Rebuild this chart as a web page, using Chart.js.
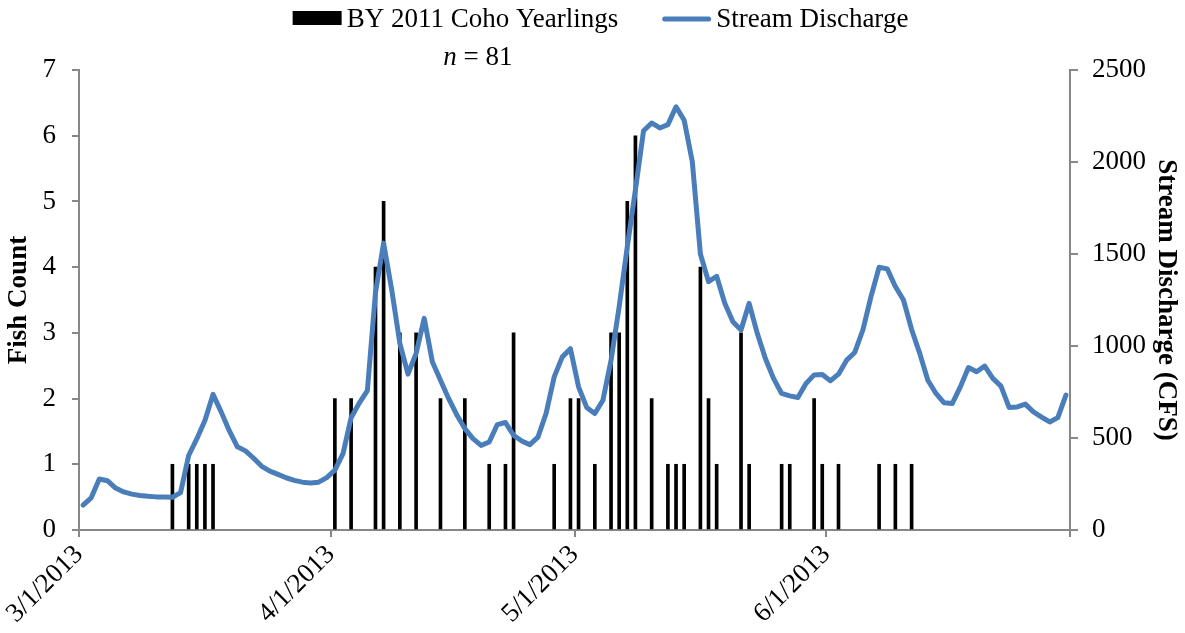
<!DOCTYPE html>
<html>
<head>
<meta charset="utf-8">
<title>BY 2011 Coho Yearlings and Stream Discharge</title>
<script src="https://cdn.jsdelivr.net/npm/chart.js@4.4.1/dist/chart.umd.min.js"></script>
<style>
  html, body { margin: 0; padding: 0; background: #ffffff; }
  #wrap { width: 1185px; height: 633px; }
</style>
</head>
<body>
<div id="wrap"><canvas id="chart" width="1185" height="633"></canvas></div>
<script>
// ---- data -------------------------------------------------------------
const seasonStart = '3/1/2013';
const seasonEnd = '7/1/2013';

// x-axis tick dates and their printed labels (the closing tick is unlabeled)
const axisTickDates = ['3/1/2013', '4/1/2013', '5/1/2013', '6/1/2013', '7/1/2013'];
const axisTickLabels = ['3/1/2013', '4/1/2013', '5/1/2013', '6/1/2013', ''];

// daily trap catch of BY 2011 coho yearlings (days with fish only)
const fishDates = [
  '3/12/2013', '3/14/2013', '3/15/2013', '3/16/2013', '3/17/2013',
  '4/1/2013', '4/3/2013', '4/6/2013', '4/7/2013', '4/9/2013', '4/11/2013', '4/14/2013',
  '4/17/2013', '4/20/2013', '4/22/2013', '4/23/2013', '4/28/2013', '4/30/2013',
  '5/1/2013', '5/3/2013', '5/5/2013', '5/6/2013', '5/7/2013', '5/8/2013', '5/10/2013',
  '5/12/2013', '5/13/2013', '5/14/2013', '5/16/2013', '5/17/2013', '5/18/2013',
  '5/21/2013', '5/22/2013', '5/26/2013', '5/27/2013', '5/30/2013', '5/31/2013',
  '6/2/2013', '6/7/2013', '6/9/2013', '6/11/2013'
];
const fishCounts = [
  1, 1, 1, 1, 1,
  2, 2, 4, 5, 3, 3, 2,
  2, 1, 1, 3, 1, 2,
  2, 1, 3, 3, 5, 6, 2,
  1, 1, 1, 4, 2, 1,
  3, 1, 1, 1, 2, 1,
  1, 1, 1, 1
];

// mean daily stream discharge (CFS), one value per day from 3/1/2013 to 6/30/2013
const dischargeCfs = [
  135, 175, 277, 268, 228, 207, 195, 188, 183, 180, 179, 178,          // Mar 1-12
  203, 405, 495, 595, 737, 642, 540, 452, 430, 390, 346, 320,          // Mar 13-24
  302, 284, 270, 260, 256, 260, 285,                                   // Mar 25-31
  325, 415, 610, 690, 758, 1290, 1559, 1305, 1014, 847, 960, 1150,     // Apr 1-12
  914, 814, 715, 627, 551, 497, 460, 478, 573, 584, 515, 484,          // Apr 13-24
  464, 505, 633, 832, 941, 985,                                        // Apr 25-30
  778, 666, 633, 705, 923, 1214, 1540, 1849, 2170, 2212, 2185, 2203,   // May 1-12
  2300, 2227, 2003, 1500, 1350, 1379, 1232, 1132, 1087, 1232, 1069, 932, // May 13-24
  824, 742, 729, 720, 796, 843, 845,                                   // May 25-31
  811, 847, 923, 965, 1087, 1268, 1428, 1419, 1323, 1250, 1090, 960,   // Jun 1-12
  814, 742, 691, 687, 778, 883, 860, 891, 824, 782, 666, 669,          // Jun 13-24
  684, 642, 614, 587, 611, 733                                         // Jun 25-30
];

const fishLabel = 'BY 2011 Coho Yearlings';
const flowLabel = 'Stream Discharge';
const sampleSize = 81;

// ---- helpers ------------------------------------------------------------
function dayNumber(dateText) {
  const [m, d, y] = dateText.split('/').map(Number);
  const [m0, d0, y0] = seasonStart.split('/').map(Number);
  return Math.round((Date.UTC(y, m - 1, d) - Date.UTC(y0, m0 - 1, d0)) / 86400000);
}

const FONT = "'Liberation Serif', 'Times New Roman', Times, serif";
const AXIS_GREY = '#878787';
const FLOW_BLUE = '#4a7ebb';
const TEXT_SIZE = 27;

Chart.defaults.font.family = FONT;
Chart.defaults.color = '#000000';

// each day occupies one unit on the x scale; marks sit in the middle of their day
const fishPoints = fishDates.map((d, i) => ({ x: dayNumber(d) + 0.5, y: fishCounts[i] }));
const flowPoints = dischargeCfs.map((v, i) => ({ x: i + 0.5, y: v }));

// Header row: series key on top, "n = 81" beneath it.
const headerRow = {
  id: 'headerRow',
  start(chart, args, opts) {
    const box = {
      position: 'top',
      weight: 500,
      fullSize: true,
      options: { stackWeight: 1 },
      left: 0, top: 0, right: 0, bottom: 0, width: 0, height: 0,
      isHorizontal() { return true; },
      getPadding() { return { left: 0, right: 0, top: 0, bottom: 0 }; },
      update(maxWidth) {
        this.width = maxWidth;
        this.height = opts.height;
        return { width: this.width, height: this.height };
      },
      draw() {
        const ctx = chart.ctx;
        const area = chart.chartArea;
        const size = opts.size;
        const upright = size + 'px ' + FONT;
        const italic = 'italic ' + size + 'px ' + FONT;
        ctx.save();
        ctx.fillStyle = '#000000';
        ctx.textBaseline = 'alphabetic';
        ctx.textAlign = 'left';

        // series key
        ctx.font = upright;
        const w1 = ctx.measureText(fishLabel).width;
        const w2 = ctx.measureText(flowLabel).width;
        const k = opts.key;
        const total = k.swatch + k.textGap + w1 + k.itemGap + k.swatch + k.textGap + w2;
        let x = chart.width / 2 + k.shift - total / 2;
        const keyTop = this.top + k.top;
        ctx.fillStyle = '#000000';
        ctx.fillRect(x, keyTop + k.boxY, k.swatch, k.boxH);
        x += k.swatch + k.textGap;
        ctx.fillText(fishLabel, x, keyTop + k.baseline);
        x += w1 + k.itemGap;
        ctx.strokeStyle = FLOW_BLUE;
        ctx.lineWidth = 5;
        ctx.lineCap = 'round';
        ctx.beginPath();
        ctx.moveTo(x + 2.5, keyTop + k.lineY);
        ctx.lineTo(x + k.swatch - 2.5, keyTop + k.lineY);
        ctx.stroke();
        x += k.swatch + k.textGap;
        ctx.fillText(flowLabel, x, keyTop + k.baseline);

        // sample size note
        const rest = ' = ' + sampleSize;
        ctx.font = italic;
        const wN = ctx.measureText('n').width;
        ctx.font = upright;
        const wRest = ctx.measureText(rest).width;
        const cx = area.left + opts.noteX * (area.right - area.left);
        const x0 = cx - (wN + wRest) / 2;
        const y = this.top + opts.noteBaseline;
        ctx.font = italic;
        ctx.fillText('n', x0, y);
        ctx.font = upright;
        ctx.fillText(rest, x0 + wN, y);
        ctx.restore();
      }
    };
    Chart.layouts.addBox(chart, box);
  }
};

const tickFont = { family: FONT, size: TEXT_SIZE };
const titleFont = { family: FONT, size: TEXT_SIZE, weight: 'bold' };

new Chart(document.getElementById('chart'), {
  type: 'bar',
  data: {
    datasets: [
      {
        type: 'bar',
        label: fishLabel,
        data: fishPoints,
        yAxisID: 'y',
        backgroundColor: '#000000',
        borderWidth: 0,
        barThickness: 3,
        order: 1
      },
      {
        type: 'line',
        label: flowLabel,
        data: flowPoints,
        yAxisID: 'y1',
        borderColor: FLOW_BLUE,
        backgroundColor: FLOW_BLUE,
        borderWidth: 5,
        borderJoinStyle: 'round',
        borderCapStyle: 'round',
        pointRadius: 0,
        tension: 0,
        fill: false,
        order: 0
      }
    ]
  },
  plugins: [headerRow],
  options: {
    responsive: false,
    maintainAspectRatio: false,
    animation: false,
    layout: { padding: { top: 0, left: 0, right: 0, bottom: 0 } },
    plugins: {
      tooltip: { enabled: false },
      legend: { display: false },
      headerRow: {
        height: 70,
        size: TEXT_SIZE,
        noteX: 0.4026,
        noteBaseline: 65,
        key: { top: 0, swatch: 49, textGap: 5, itemGap: 44, boxY: 11, boxH: 14,
               lineY: 19, baseline: 27, shift: 8 }
      }
    },
    scales: {
      x: {
        type: 'linear',
        min: 0,
        max: dayNumber(seasonEnd),
        offset: false,
        afterBuildTicks: (scale) => {
          scale.ticks = axisTickDates.map((d) => ({ value: dayNumber(d) }));
        },
        afterFit: (scale) => { scale.height = 103; },
        ticks: {
          autoSkip: false,
          minRotation: 45,
          maxRotation: 45,
          padding: 2,
          font: tickFont,
          color: '#000000',
          callback: (value, index) => axisTickLabels[index]
        },
        grid: { drawOnChartArea: false, drawTicks: true, tickLength: 7, offset: false,
                color: AXIS_GREY, lineWidth: 2 },
        border: { display: true, color: AXIS_GREY, width: 2 }
      },
      y: {
        position: 'left',
        min: 0,
        max: 7,
        afterFit: (scale) => { scale.width = 79; },
        ticks: { stepSize: 1, font: tickFont, color: '#000000', padding: 16,
                 callback: (v) => String(v) },
        grid: { drawOnChartArea: false, drawTicks: true, tickLength: 7,
                color: AXIS_GREY, lineWidth: 2 },
        border: { display: true, color: AXIS_GREY, width: 2 },
        title: { display: true, text: 'Fish Count', font: titleFont, color: '#000000',
                 padding: { top: 3, bottom: 0 } }
      },
      y1: {
        position: 'right',
        min: 0,
        max: 2500,
        afterFit: (scale) => { scale.width = 115; },
        ticks: { stepSize: 500, font: tickFont, color: '#000000', padding: 14,
                 callback: (v) => String(v) },
        grid: { drawOnChartArea: false, drawTicks: true, tickLength: 8,
                color: AXIS_GREY, lineWidth: 2 },
        border: { display: true, color: AXIS_GREY, width: 2 },
        title: { display: true, text: 'Stream Discharge (CFS)', font: titleFont, color: '#000000',
                 padding: { top: 3, bottom: 0 } }
      }
    }
  }
});
</script>
</body>
</html>
